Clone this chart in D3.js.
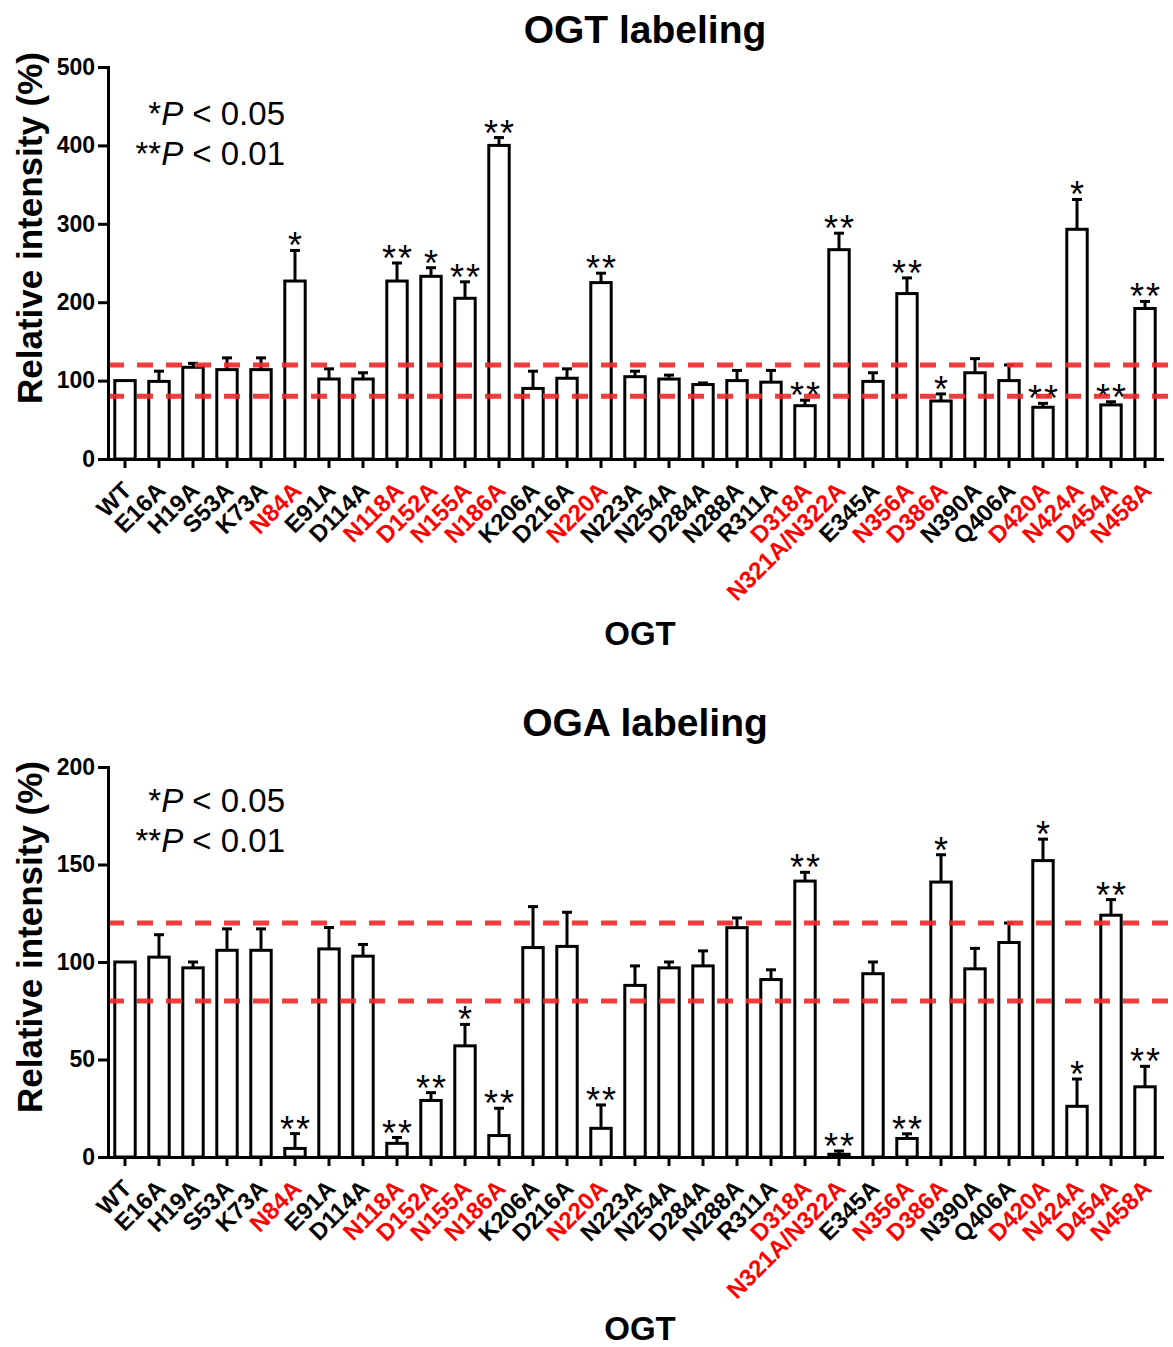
<!DOCTYPE html>
<html>
<head>
<meta charset="utf-8">
<script src="https://cdn.jsdelivr.net/npm/d3@7"></script>
<style>
  body { margin: 0; background: #fff; }
  svg { display: block; font-family: "Liberation Sans", Arial, sans-serif; }
</style>
</head>
<body>
<div id="chart"></div>
<script>
// OGT mutants (x categories), red ones are the highlighted mutants
const mutants = ["WT", "E16A", "H19A", "S53A", "K73A", "N84A", "E91A", "D114A", "N118A", "D152A",
  "N155A", "N186A", "K206A", "D216A", "N220A", "N223A", "N254A", "D284A", "N288A", "R311A",
  "D318A", "N321A/N322A", "E345A", "N356A", "D386A", "N390A", "Q406A", "D420A", "N424A", "D454A", "N458A"];
const highlighted = ["N84A", "N118A", "D152A", "N155A", "N186A", "N220A", "D318A", "N321A/N322A",
  "N356A", "D386A", "D420A", "N424A", "D454A", "N458A"];

// OGT labeling: mean, SEM, significance
const ogtMean = [100, 99, 117, 114, 114, 227, 102, 102, 227, 233, 205, 400, 90, 103, 225, 105, 102, 95, 100, 98,
  68, 267, 99, 211, 74, 110, 100, 66, 293, 69, 192];
const ogtErr = [0, 13, 5, 15, 15, 39, 13, 8, 23, 11, 21, 10, 22, 12, 12, 7, 5, 2, 13, 15,
  7, 21, 11, 20, 9, 18, 20, 5, 38, 4, 9];
const ogtSig = ["", "", "", "", "", "*", "", "", "**", "*", "**", "**", "", "", "**", "", "", "", "", "",
  "**", "**", "", "**", "*", "", "", "**", "*", "**", "**"];
const ogtTicks = [0, 100, 200, 300, 400, 500];

// OGA labeling: mean, SEM, significance
const ogaMean = [100, 102.5, 97, 106, 106, 4.4, 106.7, 103, 7, 29, 57, 11, 107.4, 108, 14.7, 88, 97, 98, 117.6, 91,
  141.5, 1.4, 94, 9.5, 141, 96.5, 110, 152, 26, 124, 36];
const ogaErr = [0, 11.5, 3, 11, 11, 7.6, 11, 6, 3, 4, 11, 14, 21, 17.5, 12, 10, 3, 7.7, 5, 5,
  4.5, 1.7, 6, 2.4, 14, 10.5, 10, 11, 14, 8, 10.5];
const ogaSig = ["", "", "", "", "", "**", "", "", "**", "**", "*", "**", "", "", "**", "", "", "", "", "",
  "**", "**", "", "**", "*", "", "", "*", "*", "**", "**"];
const ogaTicks = [0, 50, 100, 150, 200];

// threshold lines (%)
const thresholds = [80, 120];

const width = 1173;
const height = 1347;

const svg = d3.select("#chart").append("svg")
  .attr("width", width)
  .attr("height", height);

function drawPanel(opts) {
  const g = svg.append("g");
  const x = d3.scaleBand()
    .domain(mutants)
    .range([108, 1162])
    .paddingInner(0.4)
    .paddingOuter(0.2);
  const y = d3.scaleLinear()
    .domain([0, d3.max(opts.ticks)])
    .range([opts.bottom, opts.top]);

  const rows = mutants.map((m, i) => ({ name: m, mean: opts.mean[i], err: opts.err[i], sig: opts.sig[i] }));

  // title
  g.append("text")
    .attr("x", 645)
    .attr("y", opts.titleY)
    .attr("text-anchor", "middle")
    .style("font-size", "39px")
    .style("font-weight", "bold")
    .text(opts.title);

  // bars
  g.selectAll("rect.bar")
    .data(rows)
    .enter()
    .append("rect")
    .attr("class", "bar")
    .attr("x", d => x(d.name))
    .attr("y", d => y(d.mean))
    .attr("width", x.bandwidth())
    .attr("height", d => y(0) - y(d.mean))
    .attr("fill", "#fff")
    .attr("stroke", "#000")
    .attr("stroke-width", 3);

  // error bars (upper half only)
  const eb = g.selectAll("g.err")
    .data(rows.filter(d => d.err > 0))
    .enter()
    .append("g")
    .attr("class", "err")
    .attr("stroke", "#000")
    .attr("stroke-width", 3);
  eb.append("line")
    .attr("x1", d => x(d.name) + x.bandwidth() / 2)
    .attr("x2", d => x(d.name) + x.bandwidth() / 2)
    .attr("y1", d => y(d.mean))
    .attr("y2", d => y(d.mean + d.err));
  eb.append("line")
    .attr("x1", d => x(d.name) + x.bandwidth() / 2 - 5)
    .attr("x2", d => x(d.name) + x.bandwidth() / 2 + 5)
    .attr("y1", d => y(d.mean + d.err))
    .attr("y2", d => y(d.mean + d.err));

  // significance stars
  g.selectAll("text.sig")
    .data(rows.filter(d => d.sig))
    .enter()
    .append("text")
    .attr("class", "sig")
    .attr("x", d => x(d.name) + x.bandwidth() / 2 + 1)
    .attr("y", d => y(d.mean + d.err) + 8)
    .attr("text-anchor", "middle")
    .style("font-size", "36px")
    .style("letter-spacing", "2px")
    .text(d => d.sig);

  // dashed red threshold lines, drawn over the bars
  g.selectAll("line.thr")
    .data(thresholds)
    .enter()
    .append("line")
    .attr("class", "thr")
    .attr("x1", 108)
    .attr("x2", width)
    .attr("y1", d => y(d))
    .attr("y2", d => y(d))
    .attr("stroke", "#ee2b2b")
    .attr("stroke-opacity", 0.92)
    .attr("stroke-width", 5)
    .attr("stroke-dasharray", "16,13");

  // y axis
  const yAxis = g.append("g")
    .attr("transform", "translate(108,0)")
    .call(d3.axisLeft(y).tickValues(opts.ticks).tickSize(10).tickSizeOuter(0).tickPadding(3));
  yAxis.select(".domain").attr("stroke-width", 3).attr("stroke-linecap", "square");
  yAxis.selectAll(".tick line").attr("stroke-width", 3);
  yAxis.selectAll(".tick text")
    .attr("fill", "#000")
    .style("font-size", "23px")
    .style("font-weight", "bold");

  // x axis
  const xAxis = g.append("g")
    .attr("transform", `translate(0,${opts.bottom})`)
    .call(d3.axisBottom(x).tickSize(9).tickSizeOuter(0));
  xAxis.select(".domain").attr("stroke-width", 3).attr("stroke-linecap", "square");
  xAxis.selectAll(".tick line").attr("stroke-width", 3);
  xAxis.selectAll(".tick text")
    .attr("x", 0)
    .attr("y", 0)
    .attr("dy", 0)
    .attr("transform", "translate(8,33) rotate(-45)")
    .attr("text-anchor", "end")
    .attr("fill", d => highlighted.includes(d) ? "#f00" : "#000")
    .style("font-size", "24px")
    .style("font-weight", "bold");

  // y axis title
  g.append("text")
    .attr("transform", `translate(42,${opts.yLabelY}) rotate(-90)`)
    .attr("text-anchor", "middle")
    .style("font-size", "35px")
    .style("font-weight", "bold")
    .text("Relative intensity (%)");

  // x axis title
  g.append("text")
    .attr("x", 640)
    .attr("y", opts.xTitleY)
    .attr("text-anchor", "middle")
    .style("font-size", "33px")
    .style("font-weight", "bold")
    .text("OGT");

  // p-value legend
  const legend = [["*", " < 0.05"], ["**", " < 0.01"]];
  legend.forEach((l, i) => {
    const t = g.append("text")
      .attr("x", 285)
      .attr("y", opts.legendY + i * 40)
      .attr("text-anchor", "end")
      .style("font-size", "33px");
    t.append("tspan").text(l[0]);
    t.append("tspan").style("font-style", "italic").text("P");
    t.append("tspan").text(l[1]);
  });
}

drawPanel({
  title: "OGT labeling", titleY: 43,
  top: 67, bottom: 459, ticks: ogtTicks,
  mean: ogtMean, err: ogtErr, sig: ogtSig,
  legendY: 125, yLabelY: 228, xTitleY: 645
});

drawPanel({
  title: "OGA labeling", titleY: 736,
  top: 767, bottom: 1157, ticks: ogaTicks,
  mean: ogaMean, err: ogaErr, sig: ogaSig,
  legendY: 812, yLabelY: 937, xTitleY: 1340
});
</script>
</body>
</html>
